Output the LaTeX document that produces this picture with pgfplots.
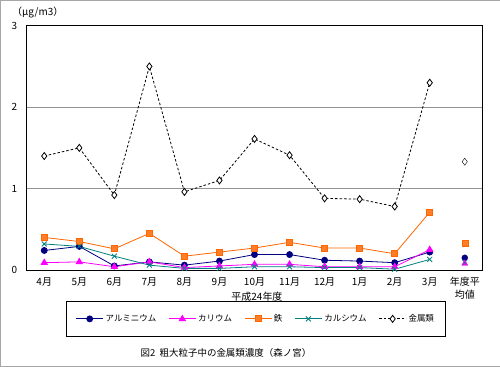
\documentclass[border=0pt]{standalone}
\usepackage{pgfplots}
\pgfplotsset{compat=1.18}
\usepackage{fontspec}
\setmainfont{Noto Sans CJK JP}
\definecolor{alu}{RGB}{0,0,128}
\definecolor{kal}{RGB}{255,0,255}
\definecolor{iron}{RGB}{255,102,0}
\definecolor{calc}{RGB}{0,128,128}
\begin{document}
\begin{tikzpicture}[x=1bp,y=1bp]
\path[draw=gray!70, fill=white] (0.5,0.5) rectangle (499.5,366.5);
\node[font=\fontsize{10}{11}\selectfont, anchor=west] at (9,354) {（μg/m3）};
\node[font=\fontsize{9.5}{11}\selectfont] at (226,14) {図2\ \ 粗大粒子中の金属類濃度（森ノ宮）};
\begin{axis}[
  at={(27bp,97bp)}, anchor=south west,
  width=455bp, height=244bp, scale only axis,
  xmin=-0.5, xmax=12.5, ymin=0, ymax=3,
  axis line style={line width=1bp},
  xtick={0,...,12},
  xticklabels={4月,5月,6月,7月,8月,9月,10月,11月,12月,1月,2月,3月,{年度平\\均値}},
  xticklabel style={align=center, font=\fontsize{10}{13}\selectfont, yshift=-4bp},
  x tick style={draw=none},
  extra x ticks={0.5,1.5,2.5,3.5,4.5,5.5,6.5,7.5,8.5,9.5,10.5,11.5},
  extra x tick labels={},
  extra x tick style={tick align=outside, major tick length=4bp, grid=none, tick style={draw=black, line width=0.6bp}},
  ytick={0,1,2,3},
  y tick style={draw=none},
  yticklabel style={font=\fontsize{10}{12}\selectfont, xshift=-6bp},
  /pgf/number format/assume math mode=true,
  ymajorgrids,
  major grid style={draw=gray!85, line width=1bp},
  legend columns=5,
  legend style={at={(0.503,-0.2)}, anchor=center, draw=black, line width=0.6bp,
    font=\fontsize{8.5}{10}\selectfont, inner xsep=9bp, inner ysep=11bp,
    /tikz/every even column/.append style={column sep=10bp}},
  legend image code/.code={\draw[mark repeat=2,mark phase=2] plot coordinates {(0bp,0bp)(13.5bp,0bp)(27bp,0bp)};},
  clip=false,
]
\addplot[alu, line width=0.8bp, mark=*, mark size=3bp, mark options={solid, fill=alu}] coordinates {
(0,0.24)(1,0.29)(2,0.05)(3,0.10)(4,0.06)(5,0.11)(6,0.19)(7,0.19)(8,0.12)(9,0.11)(10,0.09)(11,0.22)};
\addlegendentry{アルミニウム}
\addplot[kal, line width=0.8bp, mark=triangle*, mark size=3.5bp, mark options={solid, fill=kal}] coordinates {
(0,0.09)(1,0.10)(2,0.04)(3,0.10)(4,0.03)(5,0.05)(6,0.07)(7,0.07)(8,0.04)(9,0.04)(10,0.04)(11,0.25)};
\addlegendentry{カリウム}
\addplot[iron, line width=0.8bp, mark=square*, mark size=3bp, mark options={solid, fill=iron!85!white}] coordinates {
(0,0.40)(1,0.35)(2,0.26)(3,0.45)(4,0.17)(5,0.22)(6,0.27)(7,0.34)(8,0.27)(9,0.27)(10,0.20)(11,0.71)};
\addlegendentry{鉄}
\addplot[calc, line width=0.8bp, mark=x, mark size=3.5bp, mark options={solid}] coordinates {
(0,0.32)(1,0.29)(2,0.17)(3,0.06)(4,0.02)(5,0.02)(6,0.04)(7,0.04)(8,0.03)(9,0.03)(10,0.01)(11,0.13)};
\addlegendentry{カルシウム}
\addplot[black, line width=0.8bp, dash pattern=on 2.5bp off 2bp, mark=diamond*, mark size=3.5bp, mark options={solid, fill=white}] coordinates {
(0,1.40)(1,1.50)(2,0.92)(3,2.50)(4,0.96)(5,1.10)(6,1.61)(7,1.41)(8,0.88)(9,0.87)(10,0.78)(11,2.30)};
\addlegendentry{金属類}
\addplot[alu, only marks, mark=*, mark size=3bp, mark options={fill=alu}, forget plot] coordinates {(12,0.15)};
\addplot[kal, only marks, mark=triangle*, mark size=3.5bp, mark options={fill=kal}, forget plot] coordinates {(12,0.08)};
\addplot[iron, only marks, mark=square*, mark size=3bp, mark options={fill=iron!85!white}, forget plot] coordinates {(12,0.33)};
\addplot[calc, only marks, mark=x, mark size=3.5bp, forget plot] coordinates {(12,0.09)};
\addplot[black, only marks, mark=diamond*, mark size=3.5bp, mark options={fill=white}, forget plot] coordinates {(12,1.33)};
\node[font=\fontsize{10}{12}\selectfont] at (axis cs:6.07,0) [yshift=-27bp] {平成24年度};
\end{axis}
\end{tikzpicture}
\end{document}
